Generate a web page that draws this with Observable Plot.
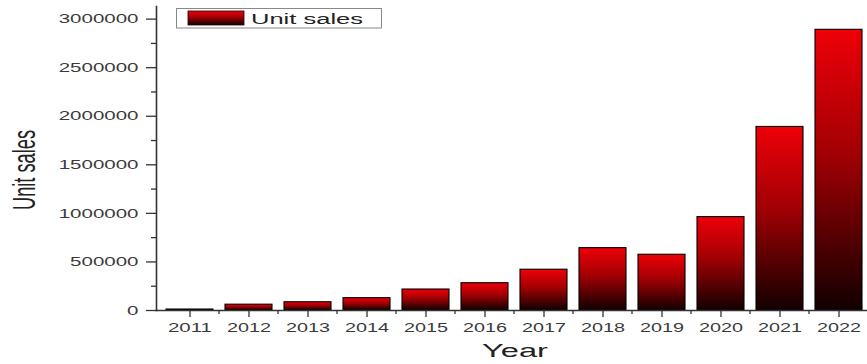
<!DOCTYPE html>
<html>
<head>
<meta charset="utf-8">
<script src="https://cdn.jsdelivr.net/npm/d3@7"></script>
<script src="https://cdn.jsdelivr.net/npm/@observablehq/plot@0.6"></script>
<style>
  html, body { margin: 0; padding: 0; background: #fff; }
  #chart { position: relative; width: 867px; height: 364px; }
  svg { font-family: "Liberation Sans", Arial, sans-serif; }
</style>
</head>
<body>
<div id="chart"></div>
<script>
// ---- data ----
const years = ["2011","2012","2013","2014","2015","2016","2017","2018","2019","2020","2021","2022"];
const unitSales = [10000, 60000, 85000, 127000, 216000, 281000, 420000, 642000, 574000, 962000, 1890000, 2890000];
const yTicks = [0, 500000, 1000000, 1500000, 2000000, 2500000, 3000000];
const yMinorTicks = [250000, 750000, 1250000, 1750000, 2250000, 2750000];
const seriesName = "Unit sales";
const xTitle = "Year";
const yTitle = "Unit sales";

const data = years.map((y, i) => ({year: y, value: unitSales[i]}));

const axisColor = "#333";
const textColor = "#3a3a3a";

const chart = Plot.plot({
  width: 867,
  height: 364,
  marginLeft: 156,
  marginRight: 0,
  marginTop: 6,
  marginBottom: 54,
  style: {background: "#fff", fontFamily: "'Liberation Sans', Arial, sans-serif", fontSize: "13px", color: textColor},
  x: {type: "band", domain: years, range: [156, 871], paddingInner: 0.21, paddingOuter: 0.105, label: null},
  y: {domain: [0, 3130000], range: [310, 6], label: null},
  marks: [
    Plot.barY(data, {x: "year", y: "value", fill: "url(#barGrad)", stroke: "#000", strokeWidth: 1.1}),
    Plot.axisY({ticks: yMinorTicks, tickSize: 5, text: null, stroke: axisColor, strokeWidth: 1.3}),
    Plot.axisY({ticks: yTicks, tickSize: 10, tickPadding: 8, tickFormat: d3.format("d"), stroke: axisColor, strokeWidth: 1.3, fill: textColor, fontSize: 13}),
    Plot.axisX({tickSize: 7, tickPadding: 5, stroke: axisColor, strokeWidth: 1.3, fill: textColor, fontSize: 13}),
    Plot.frame({anchor: "left", stroke: axisColor, strokeWidth: 1.6}),
    Plot.frame({anchor: "bottom", stroke: axisColor, strokeWidth: 1.6})
  ]
});

const svg = d3.select(chart);

// gradient definition for bars and legend swatch
const defs = svg.insert("defs", ":first-child");
const grad = defs.append("linearGradient").attr("id", "barGrad")
  .attr("x1", 0).attr("y1", 0).attr("x2", 0).attr("y2", 1);
grad.append("stop").attr("offset", "0%").attr("stop-color", "#ee0008");
grad.append("stop").attr("offset", "45%").attr("stop-color", "#a00004");
grad.append("stop").attr("offset", "100%").attr("stop-color", "#120000");

// widen tick labels to match the stretched look of the reference
svg.selectAll('[aria-label="y-axis tick label"] text').each(function() {
  const t = d3.select(this);
  const n = t.text().length;
  t.attr("textLength", n * 11.4).attr("lengthAdjust", "spacingAndGlyphs");
});
svg.selectAll('[aria-label="x-axis tick label"] text').each(function() {
  const t = d3.select(this);
  const n = t.text().length;
  t.attr("textLength", n * 11).attr("lengthAdjust", "spacingAndGlyphs");
});

// minor x ticks at band boundaries
const xs = chart.scale("x");
const step = xs.step;
const minorG = svg.append("g").attr("stroke", axisColor).attr("stroke-width", 1.3);
years.forEach((yr, i) => {
  if (i === 0) return;
  const cx = xs.apply(yr) + xs.bandwidth / 2 - step / 2;
  minorG.append("line").attr("x1", cx).attr("x2", cx).attr("y1", 310).attr("y2", 314);
});

// axis titles
svg.append("text")
  .attr("x", 515).attr("y", 357)
  .attr("text-anchor", "middle")
  .attr("font-size", 18).attr("fill", "#222")
  .attr("textLength", 66).attr("lengthAdjust", "spacingAndGlyphs")
  .text(xTitle);

svg.append("text")
  .attr("transform", "translate(35,170) rotate(-90) scale(1,1.4)")
  .attr("text-anchor", "middle")
  .attr("font-size", 22).attr("fill", "#222")
  .attr("textLength", 80).attr("lengthAdjust", "spacingAndGlyphs")
  .text(yTitle);

// legend
const lg = svg.append("g");
lg.append("rect").attr("x", 176.5).attr("y", 8.5).attr("width", 205).attr("height", 19.5)
  .attr("fill", "#fff").attr("stroke", "#888").attr("stroke-width", 1);
lg.append("rect").attr("x", 188).attr("y", 11).attr("width", 56).attr("height", 14)
  .attr("fill", "url(#barGrad)").attr("stroke", "#200").attr("stroke-width", 0.8);
lg.append("text").attr("x", 251).attr("y", 24)
  .attr("text-anchor", "start")
  .attr("font-size", 15.5).attr("fill", "#222")
  .attr("textLength", 112).attr("lengthAdjust", "spacingAndGlyphs")
  .text(seriesName);

document.getElementById("chart").appendChild(chart);
</script>
</body>
</html>
